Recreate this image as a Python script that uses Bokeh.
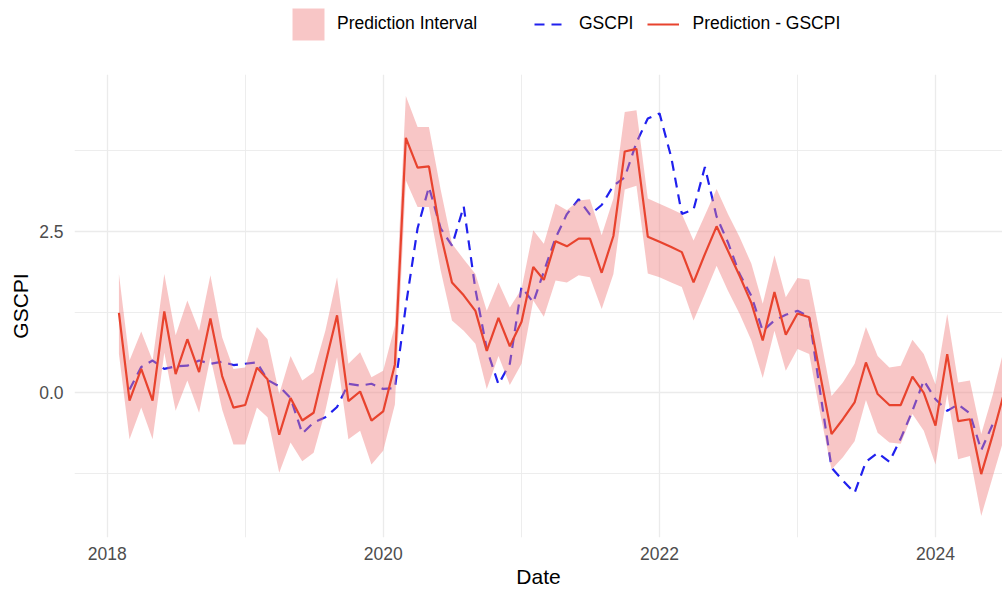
import numpy as np
import pandas as pd
from datetime import datetime
from bokeh.plotting import figure
from bokeh.layouts import column
from bokeh.models import (ColumnDataSource, Range1d, FixedTicker, DatetimeTickFormatter,
                          NumeralTickFormatter, Legend, LegendItem)
from bokeh.embed import file_html
from bokeh.resources import INLINE

# ---------------- data (monthly, first of month, from 2018-02) ----------------
dates = pd.date_range("2018-02-01", periods=78, freq="MS")

pred = [1.24, -0.12, 0.37, -0.12, 1.26, 0.29, 0.83, 0.32, 1.15, 0.26,
        -0.23, -0.19, 0.39, 0.21, -0.65, -0.08, -0.43, -0.31, 0.45, 1.20,
        -0.13, 0.02, -0.43, -0.29, 0.44, 3.95, 3.49, 3.51, 2.46, 1.71,
        1.51, 1.27, 0.65, 1.16, 0.72, 1.10, 1.95, 1.75, 2.35, 2.27,
        2.39, 2.39, 1.86, 2.43, 3.74, 3.78, 2.42, 2.34, 2.26, 2.18,
        1.71, 2.15, 2.58, 2.20, 1.81, 1.39, 0.81, 1.56, 0.90, 1.23,
        1.17, 0.31, -0.64, -0.41, -0.15, 0.47, -0.02, -0.19, -0.19, 0.25,
        0.00, -0.51, 0.60, -0.44, -0.41, -1.26, -0.64, 0.01]

upper = [1.84, 0.50, 0.95, 0.50, 1.84, 0.89, 1.43, 0.96, 1.82, 0.86,
         0.37, 0.39, 1.02, 0.83, -0.02, 0.57, 0.19, 0.32, 0.96, 1.79,
         0.45, 0.63, 0.24, 0.34, 1.04, 4.60, 4.12, 4.12, 3.15, 2.31,
         2.07, 1.84, 1.27, 1.71, 1.32, 1.61, 2.52, 2.31, 2.93, 2.83,
         2.98, 3.00, 2.44, 3.01, 4.35, 4.38, 3.01, 2.93, 2.85, 2.77,
         2.36, 2.75, 3.16, 2.77, 2.41, 2.00, 1.38, 2.13, 1.48, 1.78,
         1.75, 0.92, -0.05, 0.16, 0.45, 1.02, 0.57, 0.39, 0.42, 0.82,
         0.60, 0.13, 1.22, 0.16, 0.19, -0.64, -0.02, 0.70]

lower = [0.60, -0.72, -0.23, -0.72, 0.62, -0.28, 0.19, -0.31, 0.55, -0.26,
         -0.80, -0.80, -0.23, -0.38, -1.24, -0.77, -1.06, -0.93, -0.28, 0.55,
         -0.72, -0.59, -1.11, -0.90, -0.18, 3.29, 2.88, 2.88, 1.90, 1.12,
         0.96, 0.76, 0.06, 0.57, 0.12, 0.45, 1.43, 1.18, 1.74, 1.71,
         1.82, 1.79, 1.30, 1.84, 3.15, 3.21, 1.85, 1.79, 1.71, 1.64,
         1.12, 1.53, 1.97, 1.58, 1.22, 0.81, 0.23, 0.96, 0.34, 0.68,
         0.60, -0.29, -1.19, -1.00, -0.75, -0.11, -0.62, -0.77, -0.79, -0.33,
         -0.59, -1.11, -0.02, -1.03, -0.98, -1.91, -1.29, -0.69]

gscpi = [np.nan, 0.05, 0.40, 0.50, 0.37, 0.41, 0.42, 0.50, 0.45, 0.48,
         0.43, 0.45, 0.47, 0.20, 0.10, -0.08, -0.63, -0.46, -0.38, -0.22,
         0.14, 0.11, 0.14, 0.06, 0.07, 1.35, 2.55, 3.19, 2.55, 2.28,
         2.89, 1.60, 0.68, 0.13, 0.45, 1.64, 1.40, 1.88, 2.40, 2.77,
         3.00, 2.76, 2.91, 3.21, 3.34, 3.88, 4.25, 4.33, 3.65, 2.77,
         2.84, 3.50, 2.73, 2.33, 1.84, 1.50, 0.96, 1.12, 1.21, 1.27,
         1.18, 0.05, -1.16, -1.36, -1.55, -1.07, -0.93, -1.07, -0.71, -0.28,
         0.19, -0.10, -0.28, -0.18, -0.32, -0.89, -0.48, np.nan]

year_ticks = [2018, 2020, 2022, 2024]
year_minor = [2017, 2019, 2021, 2023, 2025]
y_ticks = [-2.5, 0.0, 2.5, 5.0]
y_minor = [-1.25, 1.25, 3.75]

legend_labels = ["Prediction Interval", "GSCPI", "Prediction - GSCPI"]

# ---------------- styles ----------------
FONT = "Liberation Sans"
BAND = dict(fill_color="#F08080", fill_alpha=0.45)
BLUE = dict(line_color="#2020EE", line_width=2.2, line_dash="10 7")
RED = dict(line_color="#E8432E", line_width=2.2)

DAY_MS = 86400000.0


def ms(dt):
    return (dt - datetime(1970, 1, 1)).total_seconds() * 1000.0


src = ColumnDataSource(dict(date=dates, pred=pred, upper=upper, lower=lower, gscpi=gscpi))

x_start = ms(datetime(2018, 1, 1)) - 0.2369 * 365.25 * DAY_MS
x_end = ms(datetime(2024, 1, 1)) + 0.4853 * 365.25 * DAY_MS

LEG_H = 48
FRAME_LEFT = 74

# ---------------- main plot ----------------
p = figure(width=1002, height=591 - LEG_H, x_axis_type="datetime",
           output_backend="svg", toolbar_location=None,
           x_range=Range1d(x_start, x_end), y_range=Range1d(-2.243, 4.933),
           min_border_left=FRAME_LEFT, min_border_right=0, min_border_top=74 - LEG_H,
           min_border_bottom=54)
p.outline_line_color = None
p.background_fill_color = "white"
p.border_fill_color = "white"

p.line(x="date", y="gscpi", source=src, **BLUE)
p.varea(x="date", y1="lower", y2="upper", source=src, **BAND)
p.line(x="date", y="pred", source=src, **RED)

p.xaxis.ticker = FixedTicker(ticks=[ms(datetime(y, 1, 1)) for y in year_ticks],
                             minor_ticks=[ms(datetime(y, 1, 1)) for y in year_minor])
fmt = "%Y"
p.xaxis.formatter = DatetimeTickFormatter(microseconds=fmt, milliseconds=fmt, seconds=fmt,
                                          minsec=fmt, minutes=fmt, hourmin=fmt, hours=fmt,
                                          days=fmt, months=fmt, years=fmt)
p.yaxis.ticker = FixedTicker(ticks=y_ticks, minor_ticks=y_minor)
p.yaxis.formatter = NumeralTickFormatter(format="0.0")

for ax in (p.xaxis, p.yaxis):
    ax.axis_line_color = None
    ax.major_tick_line_color = None
    ax.minor_tick_line_color = None
    ax.major_tick_out = 0
    ax.major_tick_in = 0
    ax.minor_tick_out = 0
    ax.minor_tick_in = 0
    ax.major_label_text_font = FONT
    ax.major_label_text_font_size = "17.5px"
    ax.major_label_text_color = "#4D4D4D"
    ax.axis_label_text_font = FONT
    ax.axis_label_text_font_size = "21px"
    ax.axis_label_text_font_style = "normal"
    ax.axis_label_text_color = "black"

p.xaxis.axis_label = "Date"
p.yaxis.axis_label = "GSCPI"
p.xaxis.major_label_standoff = 9
p.xaxis.axis_label_standoff = 2
p.yaxis.major_label_standoff = 11
p.yaxis.axis_label_standoff = 4

for g in (p.xgrid, p.ygrid):
    g.grid_line_color = "#EBEBEB"
    g.grid_line_width = 1.3
    g.minor_grid_line_color = "#EBEBEB"
    g.minor_grid_line_width = 0.9

# ---------------- legend strip (separate figure so nothing is clipped) ----------------
lf = figure(width=1002, height=LEG_H, output_backend="svg", toolbar_location=None,
            x_range=Range1d(0, 1), y_range=Range1d(0, 1),
            min_border=0, min_border_left=0, min_border_right=0,
            min_border_top=0, min_border_bottom=0)
lf.axis.visible = False
lf.grid.visible = False
lf.outline_line_color = None
lf.background_fill_color = "white"
lf.border_fill_color = "white"

# key renderers: one off-screen sample each, only so the legend can draw its keys
key_src = ColumnDataSource(dict(x=[5.0, 6.0], y=[5.0, 6.0], y1=[5.0, 5.0], y2=[6.0, 6.0]))
k_band = lf.varea(x="x", y1="y1", y2="y2", source=key_src, **BAND)
k_blue = lf.line(x="x", y="y", source=key_src, **BLUE)
k_red = lf.line(x="x", y="y", source=key_src, **RED)

common = dict(orientation="horizontal", padding=0, margin=0,
              border_line_color=None, background_fill_alpha=0,
              label_text_font=FONT, label_text_font_size="17.5px",
              label_text_color="black")
leg1 = Legend(items=[LegendItem(label=legend_labels[0], renderers=[k_band])],
              glyph_width=40, glyph_height=40, label_standoff=9, label_height=40,
              location=(288 - FRAME_LEFT, LEG_H - 43.5), **common)
leg2 = Legend(items=[LegendItem(label=legend_labels[1], renderers=[k_blue]),
                     LegendItem(label=legend_labels[2], renderers=[k_red])],
              glyph_width=32, glyph_height=32, label_standoff=13, spacing=14,
              label_height=32,
              location=(534 - FRAME_LEFT, LEG_H - 39.5), **common)
lf.add_layout(leg1)
lf.add_layout(leg2)

layout = column(lf, p, spacing=0)
open("out.html", "w").write(file_html(layout, INLINE))
